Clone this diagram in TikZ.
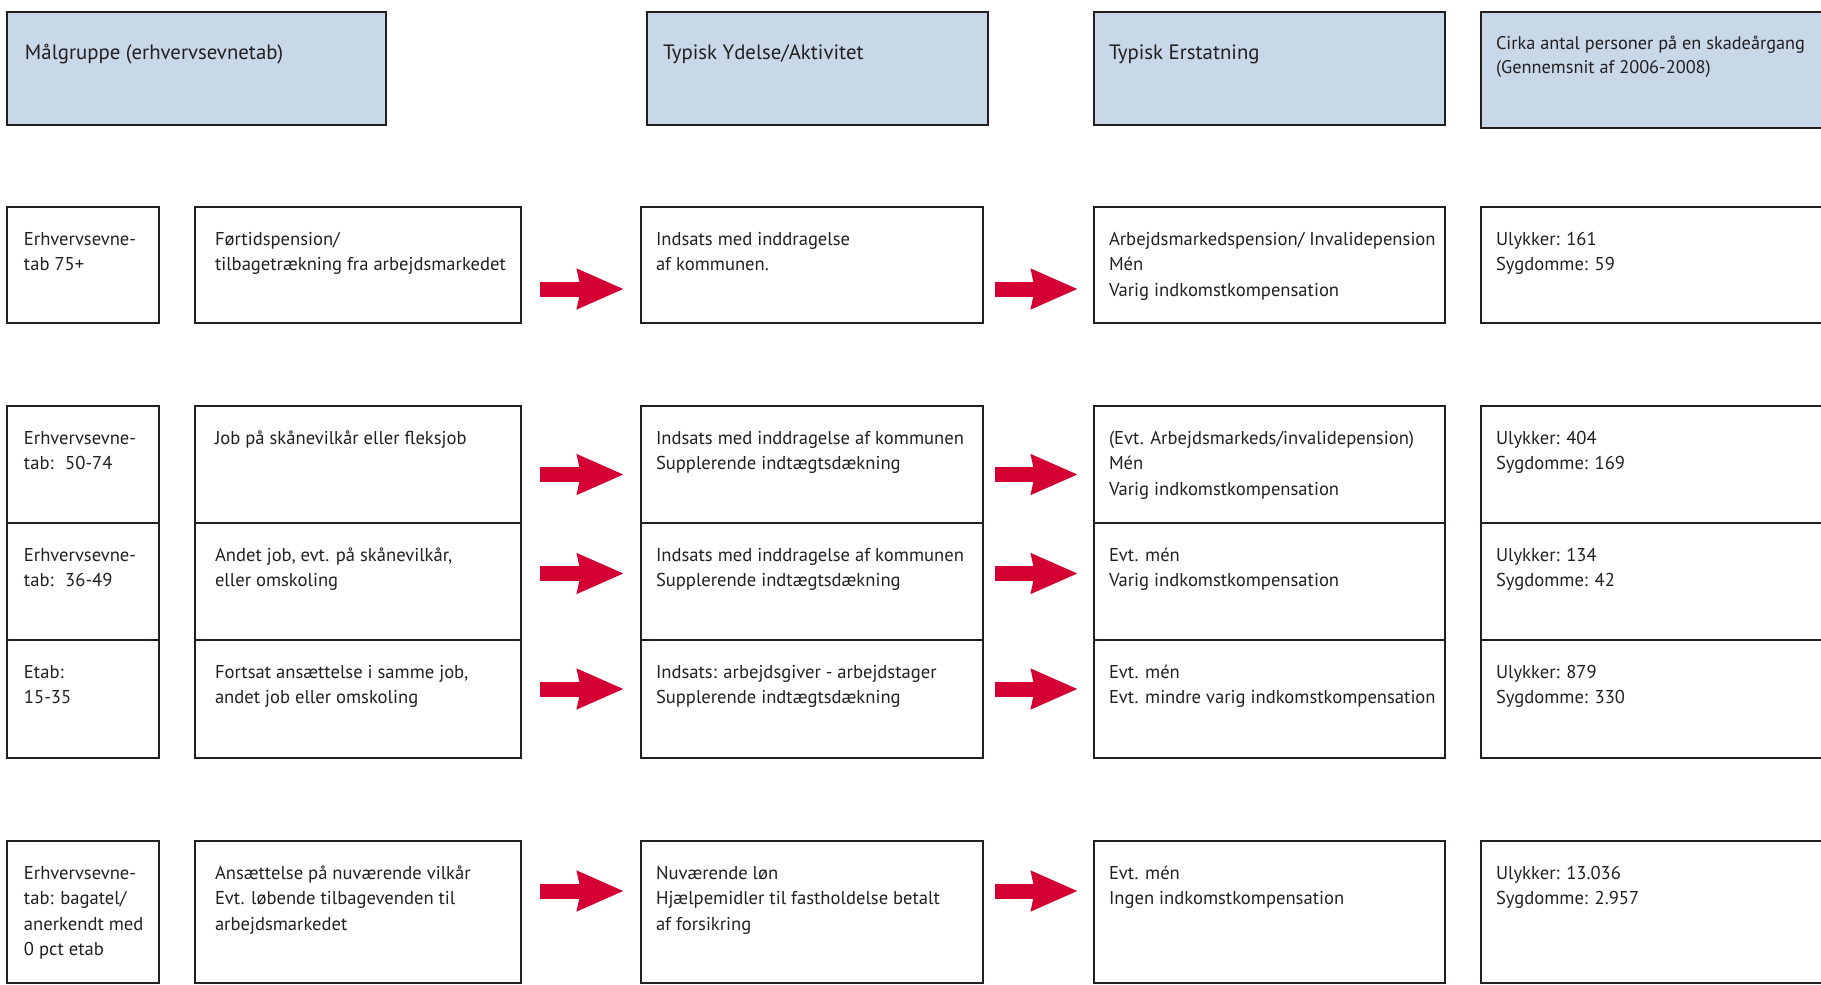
\documentclass[tikz,border=0pt]{standalone}
\usepackage{fontspec}
\setmainfont{PT Sans}
\usetikzlibrary{arrows.meta}
\definecolor{hdr}{RGB}{200,216,233}
\definecolor{brd}{RGB}{35,31,32}
\definecolor{arr}{RGB}{212,0,52}
\newcommand\mkbox[6]{\node[#2, minimum width={(#5-#3)*0.5pt}, minimum height={(#6-#4)*0.5pt}] (#1) at (#3,#4) {};}
\newcommand\st{\rule{0pt}{10pt}}
\begin{document}
\begin{tikzpicture}[x=0.5pt,y=-0.5pt,
  box/.style={draw=brd, line width=1.25pt, inner sep=0pt, outer sep=0pt, anchor=north west},
  hbox/.style={box, fill=hdr},
  txt/.style={anchor=north west, inner sep=0pt, outer sep=0pt, align=left, font=\fontsize{9.3}{12.75}\selectfont, text=brd},
  htxt/.style={txt, font=\fontsize{10.4}{13}\selectfont},
  stxt/.style={txt, font=\fontsize{9.15}{12.4}\selectfont},
  redarr/.style={draw=arr, line width=7.5pt, -{Stealth[length=23pt, width=19pt, inset=1.5pt]}}]
\useasboundingbox (0,0) rectangle (1821,985);
\clip (0,0) rectangle (1821,985);
% header
\mkbox{h1}{hbox}{7}{12}{386}{125}
\mkbox{h2}{hbox}{647}{12}{988}{125}
\mkbox{h3}{hbox}{1094}{12}{1445}{125}
\mkbox{h4}{hbox}{1481}{12}{1840}{128}
\node[htxt] (th1) at ([shift={(18,27)}]h1.north west) {\st Målgruppe (erhvervsevnetab)};
\node[htxt] (th2) at ([shift={(16,27)}]h2.north west) {\st Typisk Ydelse/Aktivitet};
\node[htxt] (th3) at ([shift={(15,27)}]h3.north west) {\st Typisk Erstatning};
\node[stxt] (th4) at ([shift={(15,17)}]h4.north west) {\st Cirka antal personer på en skadeårgang\\(Gennemsnit af 2006-2008)};
% rows
\foreach \r/\ya/\yb in {1/207/323, 2/406/523, 3/523/640, 4/640/758, 5/841/983}{
  \mkbox{r\r c1}{box}{7}{\ya}{159}{\yb}
  \mkbox{r\r c2}{box}{195}{\ya}{521}{\yb}
  \mkbox{r\r c3}{box}{641}{\ya}{983}{\yb}
  \mkbox{r\r c4}{box}{1094}{\ya}{1445}{\yb}
  \mkbox{r\r c5}{box}{1481}{\ya}{1840}{\yb}
}
% texts
\node[txt] (t11) at ([shift={(17,18)}]r1c1.north west) {\st Erhvervsevne-\\tab 75+};
\node[txt] (t12) at ([shift={(20,18)}]r1c2.north west) {\st Førtidspension/\\tilbagetrækning fra arbejdsmarkedet};
\node[txt] (t13) at ([shift={(15,18)}]r1c3.north west) {\st Indsats med inddragelse\\af kommunen.};
\node[txt] (t14) at ([shift={(15,18)}]r1c4.north west) {\st Arbejdsmarkedspension/ Invalidepension\\Mén\\Varig indkomstkompensation};
\node[txt] (t15) at ([shift={(15,18)}]r1c5.north west) {\st Ulykker: 161\\Sygdomme: 59};

\node[txt] (t21) at ([shift={(17,18)}]r2c1.north west) {\st Erhvervsevne-\\tab:~ 50-74};
\node[txt] (t22) at ([shift={(20,18)}]r2c2.north west) {\st Job på skånevilkår eller fleksjob};
\node[txt] (t23) at ([shift={(15,18)}]r2c3.north west) {\st Indsats med inddragelse af kommunen\\Supplerende indtægtsdækning};
\node[txt] (t24) at ([shift={(15,18)}]r2c4.north west) {\st (Evt. Arbejdsmarkeds/invalidepension)\\Mén\\Varig indkomstkompensation};
\node[txt] (t25) at ([shift={(15,18)}]r2c5.north west) {\st Ulykker: 404\\Sygdomme: 169};

\node[txt] (t31) at ([shift={(17,18)}]r3c1.north west) {\st Erhvervsevne-\\tab:~ 36-49};
\node[txt] (t32) at ([shift={(20,18)}]r3c2.north west) {\st Andet job, evt. på skånevilkår,\\eller omskoling};
\node[txt] (t33) at ([shift={(15,18)}]r3c3.north west) {\st Indsats med inddragelse af kommunen\\Supplerende indtægtsdækning};
\node[txt] (t34) at ([shift={(15,18)}]r3c4.north west) {\st Evt. mén\\Varig indkomstkompensation};
\node[txt] (t35) at ([shift={(15,18)}]r3c5.north west) {\st Ulykker: 134\\Sygdomme: 42};

\node[txt] (t41) at ([shift={(17,18)}]r4c1.north west) {\st Etab:\\15-35};
\node[txt] (t42) at ([shift={(20,18)}]r4c2.north west) {\st Fortsat ansættelse i samme job,\\andet job eller omskoling};
\node[txt] (t43) at ([shift={(15,18)}]r4c3.north west) {\st Indsats: arbejdsgiver - arbejdstager\\Supplerende indtægtsdækning};
\node[txt] (t44) at ([shift={(15,18)}]r4c4.north west) {\st Evt. mén\\Evt. mindre varig indkomstkompensation};
\node[txt] (t45) at ([shift={(15,18)}]r4c5.north west) {\st Ulykker: 879\\Sygdomme: 330};

\node[txt] (t51) at ([shift={(17,18)}]r5c1.north west) {\st Erhvervsevne-\\tab: bagatel/\\anerkendt med\\0 pct etab};
\node[txt] (t52) at ([shift={(20,18)}]r5c2.north west) {\st Ansættelse på nuværende vilkår\\Evt. løbende tilbagevenden til\\arbejdsmarkedet};
\node[txt] (t53) at ([shift={(15,18)}]r5c3.north west) {\st Nuværende løn\\Hjælpemidler til fastholdelse betalt\\af forsikring};
\node[txt] (t54) at ([shift={(15,18)}]r5c4.north west) {\st Evt. mén\\Ingen indkomstkompensation};
\node[txt] (t55) at ([shift={(15,18)}]r5c5.north west) {\st Ulykker: 13.036\\Sygdomme: 2.957};
% arrows
\foreach \r/\dy in {1/24, 2/10, 3/-8, 4/-10, 5/-21}{
  \draw[redarr] ([shift={(19,\dy)}]r\r c2.east) -- ([shift={(-17,\dy)}]r\r c3.west);
  \draw[redarr] ([shift={(12,\dy)}]r\r c3.east) -- ([shift={(-16,\dy)}]r\r c4.west);
}
\end{tikzpicture}
\end{document}
